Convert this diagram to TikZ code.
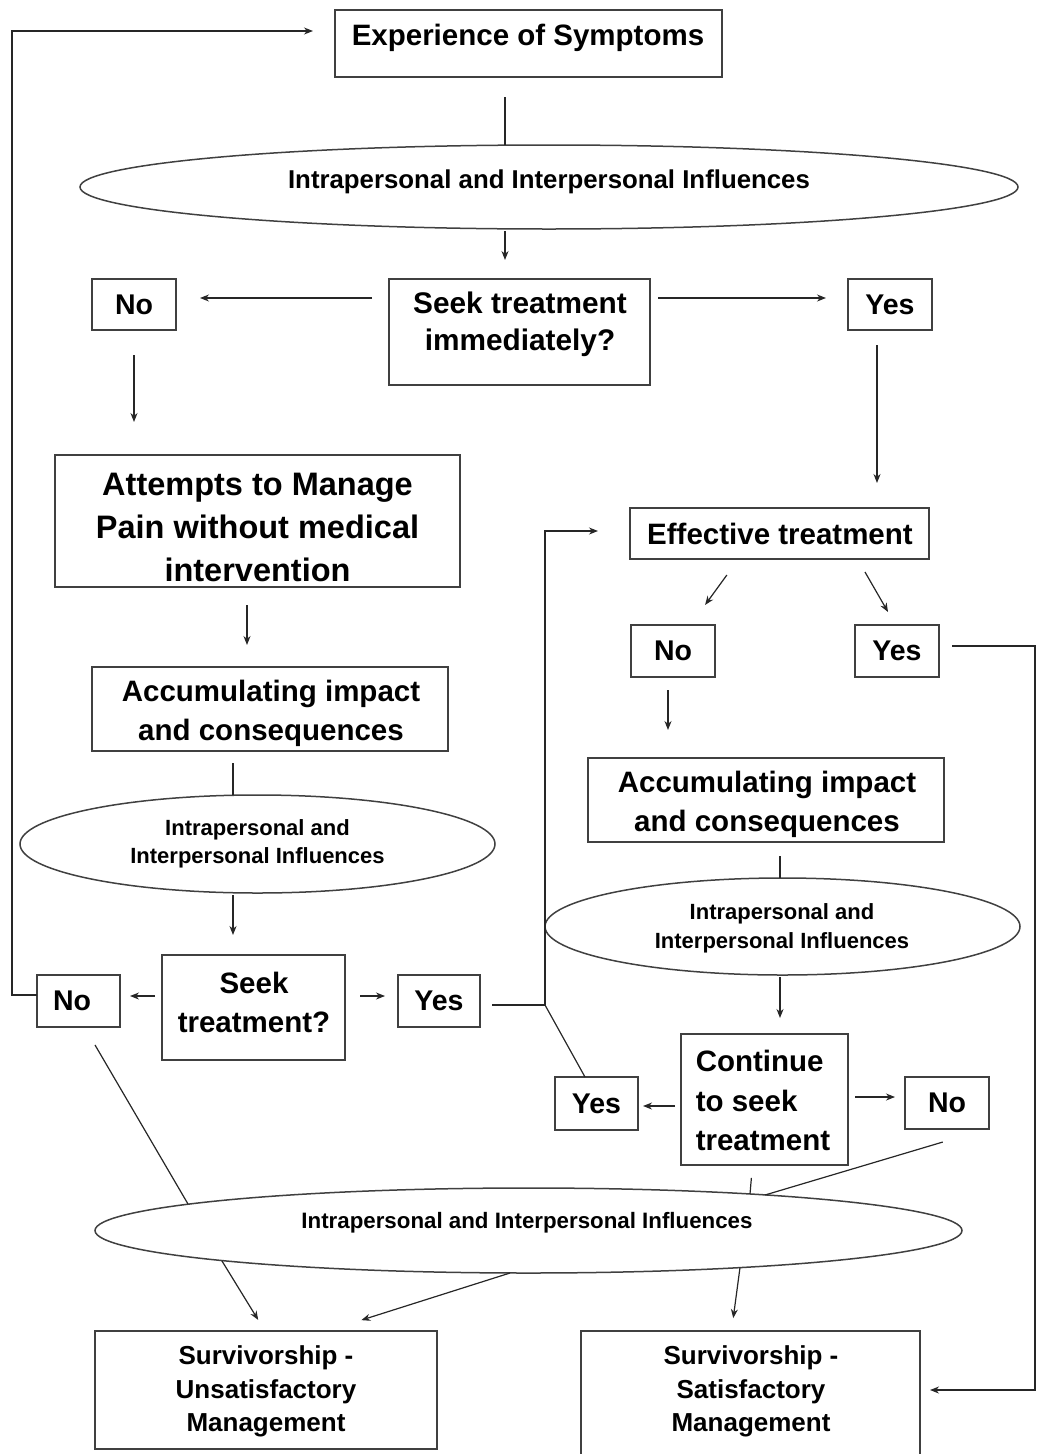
\documentclass[tikz,border=0pt]{standalone}
\usepackage{fontspec}
\setmainfont{Liberation Sans}
\usetikzlibrary{shapes.geometric,arrows.meta}
\tikzset{
  boxshape/.style={draw=black!75, line width=1.5pt, rectangle, inner sep=0pt, outer sep=0pt},
  ellshape/.style={draw=black!75, line width=1.5pt, ellipse, inner sep=0pt, outer sep=0pt},
  txt/.style={inner sep=0pt, outer sep=0pt, align=center, font=\bfseries},
  ln/.style={draw=black!85, line width=1.2pt},
  arr/.style={ln, -{Stealth[length=9pt,width=7pt]}},
}
\newcommand{\fsz}[2]{\fontsize{#1}{#2}\selectfont\bfseries}
\begin{document}
\begin{tikzpicture}[x=1pt,y=-1pt]
\useasboundingbox (0,0) rectangle (1037,1454);
% boxes and ellipses
\node[boxshape, minimum width=387, minimum height=67] (exp) at (528.5,43.5) {};
\node[ellshape, minimum width=938, minimum height=84] (ell1) at (549,187) {};
\node[boxshape, minimum width=261, minimum height=106] (seekImm) at (519.5,332) {};
\node[boxshape, minimum width=84, minimum height=51] (no1) at (134,304.5) {};
\node[boxshape, minimum width=84, minimum height=51] (yes1) at (890,304.5) {};
\node[boxshape, minimum width=405, minimum height=132] (att) at (257.5,521) {};
\node[boxshape, minimum width=356, minimum height=84] (accL) at (270,709) {};
\node[ellshape, minimum width=475, minimum height=98] (ell2) at (257.5,844) {};
\node[boxshape, minimum width=183, minimum height=105] (seekT) at (253.5,1007.5) {};
\node[boxshape, minimum width=83, minimum height=52] (no2) at (78.5,1001) {};
\node[boxshape, minimum width=82, minimum height=52] (yes2) at (439,1001) {};
\node[boxshape, minimum width=299, minimum height=51] (eff) at (779.5,533.5) {};
\node[boxshape, minimum width=84, minimum height=52] (no3) at (673,651) {};
\node[boxshape, minimum width=84, minimum height=52] (yes3) at (897,651) {};
\node[boxshape, minimum width=356, minimum height=84] (accR) at (766,800) {};
\node[ellshape, minimum width=475, minimum height=97] (ell4) at (782.5,926.5) {};
\node[boxshape, minimum width=167, minimum height=131] (cont) at (764.5,1099.5) {};
\node[boxshape, minimum width=83, minimum height=53] (yes4) at (596.5,1103.5) {};
\node[boxshape, minimum width=84, minimum height=52] (no4) at (947,1103) {};
\node[ellshape, minimum width=867, minimum height=85] (ell3) at (528.5,1230.5) {};
\node[boxshape, minimum width=342, minimum height=118] (unsat) at (266,1390) {};
\node[boxshape, minimum width=339, minimum height=128] (sat) at (750.5,1395) {};
% texts
\node[txt, font=\fsz{29.5}{34}] (expT) at (528,38) {Experience of Symptoms};
\node[txt, font=\fsz{25.8}{30}] (ell1T) at (549,182) {Intrapersonal and Interpersonal Influences};
\node[txt, font=\fsz{29.8}{37}] (seekImmT) at (520,324.5) {Seek treatment\\immediately?};
\node[txt, font=\fsz{28.5}{32}] (no1T) at (134,304.5) {No};
\node[txt, font=\fsz{28.5}{32}] (yes1T) at (890,304.5) {Yes};
\node[txt, font=\fsz{32.5}{43}] (attT) at (257.5,527) {Attempts to Manage\\Pain without medical\\intervention};
\node[txt, font=\fsz{29.5}{39}] (accLT) at (271,713.5) {Accumulating impact\\and consequences};
\node[txt, font=\fsz{22}{28.5}] (ell2T) at (257.5,844) {Intrapersonal and\\Interpersonal Influences};
\node[txt, font=\fsz{29.5}{39}] (seekTT) at (254,1002.5) {Seek\\treatment?};
\node[txt, font=\fsz{28.5}{32}] (no2T) at (72,1001) {No};
\node[txt, font=\fsz{28.5}{32}] (yes2T) at (439,1001) {Yes};
\node[txt, font=\fsz{29.5}{34}] (effT) at (780,534) {Effective treatment};
\node[txt, font=\fsz{28.5}{32}] (no3T) at (673,651) {No};
\node[txt, font=\fsz{28.5}{32}] (yes3T) at (897,651) {Yes};
\node[txt, font=\fsz{29.5}{39}] (accRT) at (767,804.5) {Accumulating impact\\and consequences};
\node[txt, font=\fsz{22}{28.5}] (ell4T) at (782,928.5) {Intrapersonal and\\Interpersonal Influences};
\node[txt, align=left, font=\fsz{29.5}{39.5}] (contT) at (763,1100.5) {Continue\\to seek\\treatment};
\node[txt, font=\fsz{28.5}{32}] (yes4T) at (596.5,1103.5) {Yes};
\node[txt, font=\fsz{28.5}{32}] (no4T) at (947,1103) {No};
\node[txt, font=\fsz{22.3}{28}] (ell3T) at (527,1223) {Intrapersonal and Interpersonal Influences};
\node[txt, font=\fsz{26}{33.5}] (unsatT) at (266,1391.5) {Survivorship -\\Unsatisfactory\\Management};
\node[txt, font=\fsz{26}{33.5}] (satT) at (751,1391.5) {Survivorship -\\Satisfactory\\Management};
% connectors
\draw[ln, shorten <=20] ([xshift=-23.5]exp.south) -- ([xshift=-23.5]exp.south |- ell1.north);
\draw[arr, shorten <=2, shorten >=19] ([xshift=-14.5]seekImm.north |- ell1.south) -- ([xshift=-14.5]seekImm.north);
\draw[arr, shorten <=17, shorten >=24] ([yshift=6.5]no1.east -| seekImm.west) -- ([yshift=6.5]no1.east);
\draw[arr, shorten <=8, shorten >=22] ([yshift=6.5]yes1.west -| seekImm.east) -- ([yshift=6.5]yes1.west);
\draw[arr, shorten <=25, shorten >=33] (no1.south) -- (no1.south |- att.north);
\draw[arr, shorten <=15, shorten >=25] ([xshift=-13]yes1.south) -- ([xshift=-13]yes1.south |- eff.north);
\draw[arr, shorten <=18, shorten >=22] ([xshift=-10.5]att.south) -- ([xshift=-10.5]att.south |- accL.north);
\draw[ln, shorten <=12] ([xshift=-37]accL.south) -- ([xshift=-37]accL.south |- ell2.north);
\draw[arr, shorten <=2, shorten >=20] ([xshift=-20.5]seekT.north |- ell2.south) -- ([xshift=-20.5]seekT.north);
\draw[arr, shorten <=7, shorten >=10] ([yshift=5]no2.east -| seekT.west) -- ([yshift=5]no2.east);
\draw[arr, shorten <=15, shorten >=13] ([yshift=5]yes2.west -| seekT.east) -- ([yshift=5]yes2.west);
\draw[arr, shorten >=22] ([yshift=6]no2.west) -- ++(-25,0) |- ([yshift=12.5]exp.west);
\draw[ln, shorten <=20.8] ([xshift=6]no2.south) -- ([xshift=-340.5,yshift=26.5]ell3.center);
\draw[arr, shorten >=13] ([xshift=-306.5,yshift=-30.5]ell3.center) -- ([xshift=-1]unsat.north);
\draw[arr, shorten >=36] ([xshift=-18.5,yshift=-42.5]ell3.center) -- ([xshift=61]unsat.north);
\draw[arr, shorten >=13] ([xshift=211.5,yshift=-37]ell3.center) -- ([xshift=-19]sat.north);
\draw[arr, shorten <=12, shorten >=32] ([yshift=-4]yes2.east) -- ++(65,0) |- ([yshift=2.5]eff.west);
\draw[ln] ([xshift=-11.5]yes4.north) -- ([xshift=65,yshift=-4]yes2.east);
\draw[arr, shorten <=19.8, shorten >=24.8] ([xshift=-41]eff.south) -- ([xshift=17.5]no3.north);
\draw[arr, shorten <=15, shorten >=15] ([xshift=78]eff.south) -- ([xshift=-1.5]yes3.north);
\draw[arr, shorten <=13, shorten >=28] ([xshift=-5]no3.south) -- ([xshift=-5]no3.south |- accR.north);
\draw[arr, shorten <=13, shorten >=10] ([yshift=5]yes3.east) -- ++(96,0) |- ([yshift=5]sat.east);
\draw[ln, shorten <=14] ([xshift=14]accR.south) -- ([xshift=14]accR.south |- ell4.north);
\draw[arr, shorten <=2, shorten >=16] ([xshift=15.5]cont.north |- ell4.south) -- ([xshift=15.5]cont.north);
\draw[arr, shorten <=6, shorten >=5] ([yshift=-2.5]yes4.east -| cont.west) -- ([yshift=-2.5]yes4.east);
\draw[arr, shorten <=7, shorten >=10] ([yshift=6]no4.west -| cont.east) -- ([yshift=6]no4.west);
\draw[ln, shorten <=45.6] ([xshift=39.5]no4.south) -- ([xshift=236.5,yshift=35.5]ell3.center);
\draw[ln, shorten <=13] ([xshift=-12]cont.south) -- ([xshift=221.5,yshift=36.5]ell3.center);
\end{tikzpicture}
\end{document}
